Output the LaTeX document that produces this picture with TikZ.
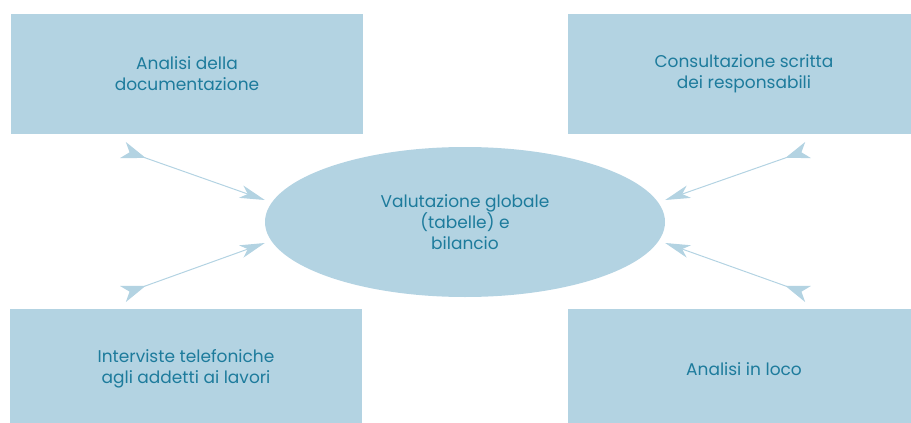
\documentclass[tikz,border=0pt]{standalone}
\usepackage{fontspec}
\setmainfont{Poppins}
\usetikzlibrary{arrows.meta,shapes.geometric}
\definecolor{pale}{HTML}{B3D3E2}
\definecolor{ink}{HTML}{1D7B9C}
\tikzset{
	box/.style={fill=pale,minimum width=352pt,minimum height=120pt,text=ink,align=center,font=\fontsize{17}{21}\selectfont},
	feed/.style={draw=pale,line width=1pt,{Stealth[reversed,length=24pt,width=17pt,inset=7pt,fill=pale]}-{Stealth[length=25pt,width=13pt,inset=7pt,fill=pale]}}
}
\begin{document}
\begin{tikzpicture}[x=1pt,y=-1pt]
			\clip (0,0) rectangle (911,423);
			\node[box] (doc) at (187,74) {Analisi della\\documentazione};
			\node[box] (cons) at (744,74) {Consultazione scritta\\dei responsabili};
			\node[box] (interv) at (186,369) {Interviste telefoniche\\agli addetti ai lavori};
			\node[box] (loco) at (744,369) {Analisi in loco};
			\node[ellipse,fill=pale,minimum width=400pt,minimum height=150pt,inner sep=0pt,text=ink,align=center,font=\fontsize{17}{21}\selectfont] (val) at (465,222) {Valutazione globale\\(tabelle) e\\bilancio};
			% tails of the arrows
			\coordinate (t1) at (123,150);
			\coordinate (t2) at (123,294);
			\coordinate (t3) at (808,150);
			\coordinate (t4) at (808,294);
			\draw[feed] (t1) -- ([yshift=22pt]val.west);
			\draw[feed] (t2) -- ([yshift=-21pt]val.west);
			\draw[feed] (t3) -- ([yshift=22pt]val.east);
			\draw[feed] (t4) -- ([yshift=-21pt]val.east);
\end{tikzpicture}
\end{document}
